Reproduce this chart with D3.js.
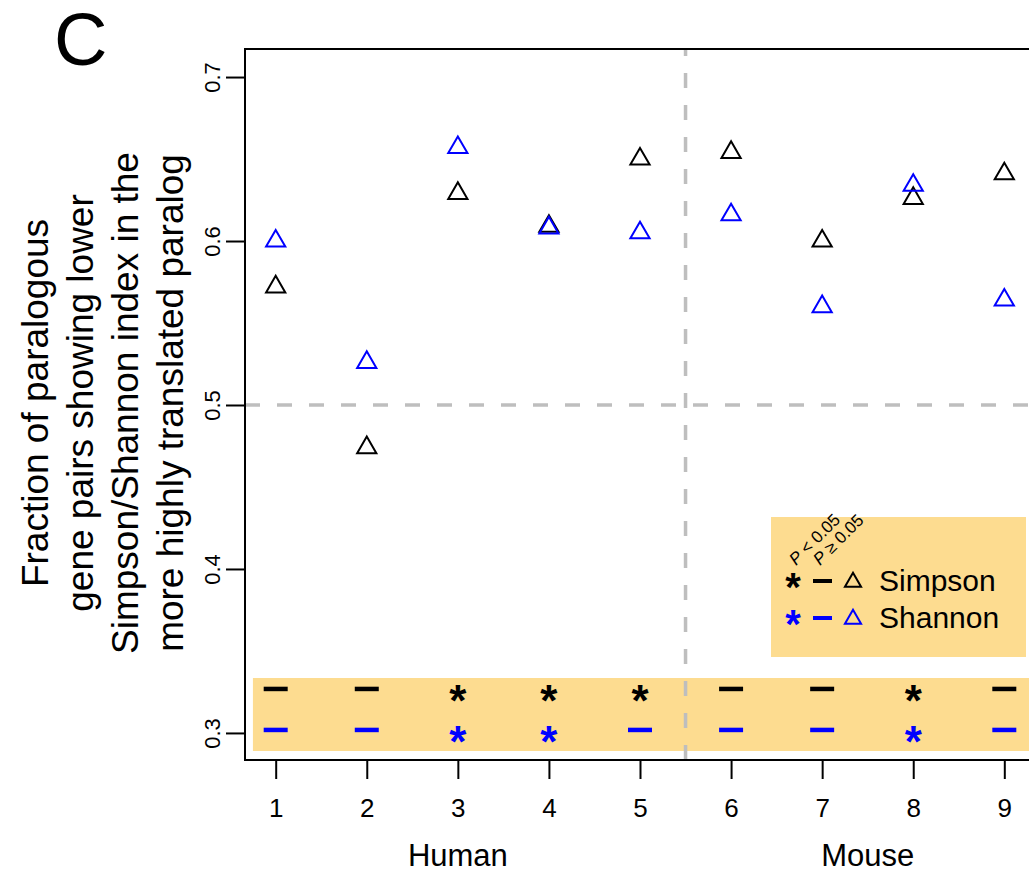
<!DOCTYPE html>
<html>
<head>
<meta charset="utf-8">
<script src="https://cdn.jsdelivr.net/npm/d3@7"></script>
<style>
    body { margin: 0; background: #fff; }
    svg { display: block; font-family: "Liberation Sans", Arial, Helvetica, sans-serif; }
</style>
</head>
<body>
<div id="chart"></div>
<script>
// paralog pairs 1-5 are human, 6-9 are mouse
const pairIds = [1, 2, 3, 4, 5, 6, 7, 8, 9];
const simpsonFraction = [0.572, 0.474, 0.629, 0.609, 0.650, 0.654, 0.600, 0.626, 0.641];
const shannonFraction = [0.600, 0.526, 0.657, 0.608, 0.605, 0.616, 0.560, 0.634, 0.564];
// true = P < 0.05 (asterisk), false = P >= 0.05 (dash)
const simpsonSignif = [false, false, true, true, true, false, false, true, false];
const shannonSignif = [false, false, true, true, false, false, false, true, false];
const yTicks = [0.3, 0.4, 0.5, 0.6, 0.7];
const groupNames = ["Human", "Mouse"];
const groupCenters = [3, 7.5];
const yLabelLines = ["Fraction of paralogous",
                     "gene pairs showing lower",
                     "Simpson/Shannon index in the",
                     "more highly translated paralog"];

const width = 1029, height = 871;
const plot = {left: 245, right: 1035, top: 49, bottom: 760};
const band = "#FDDC90";
const dashGrey = "#BEBEBE";

let svg = d3.select("#chart")
    .append("svg")
    .attr("width", width)
    .attr("height", height);

let x = d3.scaleLinear()
    .domain([0.663, 9.337])
    .range([plot.left, plot.right]);

let y = d3.scaleLinear()
    .domain([0.2835, 0.7171])
    .range([plot.bottom, plot.top]);

// significance strip along the bottom
svg.append("rect")
    .attr("x", x(0.75))
    .attr("y", y(0.3335))
    .attr("width", plot.right - x(0.75))
    .attr("height", y(0.289) - y(0.3335))
    .attr("fill", band);

// reference lines: 0.5 and the human/mouse split
svg.append("line")
    .attr("x1", plot.left).attr("x2", plot.right)
    .attr("y1", y(0.5)).attr("y2", y(0.5))
    .attr("stroke", dashGrey)
    .attr("stroke-width", 3.5)
    .attr("stroke-dasharray", "15,17");

svg.append("line")
    .attr("x1", x(5.5)).attr("x2", x(5.5))
    .attr("y1", plot.bottom).attr("y2", plot.top)
    .attr("stroke", dashGrey)
    .attr("stroke-width", 3.5)
    .attr("stroke-dasharray", "15,17");

function triangle(cx, cy, r) {
    let hw = r * Math.sqrt(3) / 2;
    return "M" + cx + "," + (cy - r) +
        "L" + (cx + hw) + "," + (cy + r / 2) +
        "L" + (cx - hw) + "," + (cy + r / 2) + "Z";
}

function drawSeries(values, color) {
    svg.append("g")
        .selectAll("path")
        .data(values)
        .join("path")
        .attr("d", (d, i) => triangle(x(pairIds[i]), y(d), 11.1))
        .attr("fill", "none")
        .attr("stroke", color)
        .attr("stroke-width", 2);
}

drawSeries(simpsonFraction, "#000");
drawSeries(shannonFraction, "#0000FF");

// asterisk / dash markers in the strip
function drawSignif(flags, rowValue, color) {
    let g = svg.append("g");
    g.selectAll("text")
        .data(flags.map((f, i) => [pairIds[i], f]).filter(d => d[1]))
        .join("text")
        .attr("x", d => x(d[0]))
        .attr("y", y(rowValue) + 24)
        .attr("text-anchor", "middle")
        .attr("font-size", "44px")
        .attr("font-weight", "bold")
        .attr("fill", color)
        .text("*");
    g.selectAll("line")
        .data(flags.map((f, i) => [pairIds[i], f]).filter(d => !d[1]))
        .join("line")
        .attr("x1", d => x(d[0]) - 12)
        .attr("x2", d => x(d[0]) + 12)
        .attr("y1", y(rowValue) - 3)
        .attr("y2", y(rowValue) - 3)
        .attr("stroke", color)
        .attr("stroke-width", 4.5);
}

drawSignif(simpsonSignif, 0.325, "#000");
drawSignif(shannonSignif, 0.3, "#0000FF");

// frame
svg.append("rect")
    .attr("x", plot.left)
    .attr("y", plot.top)
    .attr("width", plot.right - plot.left)
    .attr("height", plot.bottom - plot.top)
    .attr("fill", "none")
    .attr("stroke", "#000")
    .attr("stroke-width", 2);

// x axis
let xAxis = svg.append("g")
    .attr("transform", "translate(0," + plot.bottom + ")")
    .call(d3.axisBottom(x).tickValues(pairIds).tickSize(19).tickFormat(d3.format("d")));
xAxis.select(".domain").remove();
xAxis.selectAll(".tick line").attr("stroke-width", 2);
xAxis.selectAll(".tick text")
    .attr("font-family", null)
    .attr("font-size", "26px")
    .attr("dy", null)
    .attr("y", 57);

svg.append("g")
    .selectAll("text")
    .data(groupNames)
    .join("text")
    .attr("x", (d, i) => x(groupCenters[i]))
    .attr("y", 866)
    .attr("text-anchor", "middle")
    .attr("font-size", "31px")
    .text(d => d);

// y axis, labels turned to read upwards
let yAxis = svg.append("g")
    .attr("transform", "translate(" + plot.left + ",0)")
    .call(d3.axisLeft(y).tickValues(yTicks).tickSize(19).tickFormat(d3.format(".1f")));
yAxis.select(".domain").remove();
yAxis.selectAll(".tick line").attr("stroke-width", 2);
yAxis.selectAll(".tick text")
    .attr("font-family", null)
    .attr("font-size", "22px")
    .attr("x", null)
    .attr("dy", null)
    .attr("text-anchor", "middle")
    .attr("transform", "translate(-25,0) rotate(-90)");

svg.append("g")
    .attr("transform", "translate(0,403) rotate(-90)")
    .selectAll("text")
    .data(yLabelLines)
    .join("text")
    .attr("x", 0)
    .attr("y", (d, i) => 48 + i * 45)
    .attr("text-anchor", "middle")
    .attr("font-size", "37px")
    .text(d => d);

// panel letter
svg.append("text")
    .attr("x", 54)
    .attr("y", 65)
    .attr("font-size", "74px")
    .text("C");

// legend
let legend = svg.append("g");
legend.append("rect")
    .attr("x", 771).attr("y", 517)
    .attr("width", 255).attr("height", 140)
    .attr("fill", band);

legend.append("text")
    .attr("transform", "translate(796,566) rotate(-45)")
    .attr("font-size", "17px")
    .html("<tspan font-style='italic'>P</tspan> &lt; 0.05");
legend.append("text")
    .attr("transform", "translate(820,566) rotate(-45)")
    .attr("font-size", "17px")
    .html("<tspan font-style='italic'>P</tspan> \u2265 0.05");

const legendRows = [["Simpson", "#000", 581], ["Shannon", "#0000FF", 618]];
legendRows.forEach(function (row) {
    legend.append("text")
        .attr("x", 793).attr("y", row[2] + 20)
        .attr("text-anchor", "middle")
        .attr("font-size", "40px")
        .attr("font-weight", "bold")
        .attr("fill", row[1])
        .text("*");
    legend.append("line")
        .attr("x1", 813).attr("x2", 832)
        .attr("y1", row[2]).attr("y2", row[2])
        .attr("stroke", row[1])
        .attr("stroke-width", 4);
    legend.append("path")
        .attr("d", triangle(853, row[2] + 1, 9.3))
        .attr("fill", "none")
        .attr("stroke", row[1])
        .attr("stroke-width", 2);
    legend.append("text")
        .attr("x", 879).attr("y", row[2] + 10)
        .attr("font-size", "30px")
        .text(row[0]);
});
</script>
</body>
</html>
